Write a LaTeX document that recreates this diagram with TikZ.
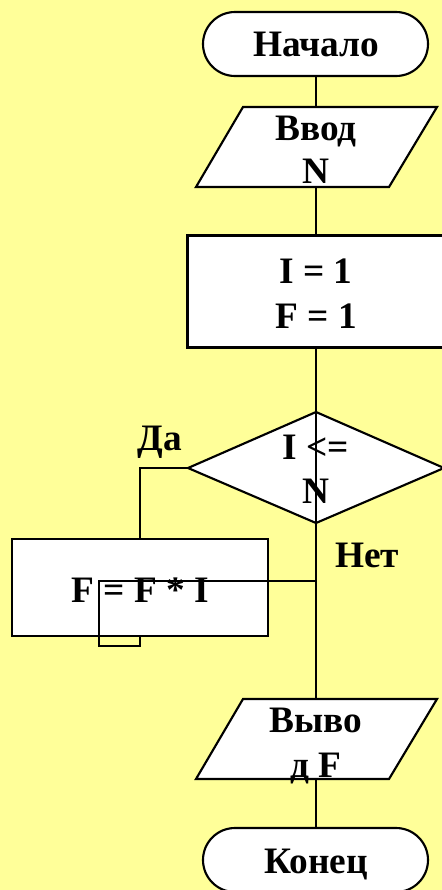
\documentclass[tikz,border=0pt]{standalone}
\usepackage{fontspec}
\setmainfont{Liberation Serif}
\definecolor{bgyellow}{HTML}{FFFF99}
\tikzset{
  lbl/.style={font=\fontsize{28}{33}\selectfont\bfseries, anchor=base, inner sep=0pt, text=black},
  shapebox/.style={draw=black, fill=white, line width=1.6pt},
  thickbox/.style={draw=black, fill=white, line width=2.25pt},
  conn/.style={draw=black, line width=1.5pt}
}
\begin{document}
\begin{tikzpicture}[x=0.75pt,y=-0.75pt]
\fill[bgyellow] (0,0) rectangle (442,890);
\useasboundingbox (0,0) rectangle (442,890);
\clip (0,0) rectangle (442,890);

% start terminator
\draw[shapebox, rounded corners=24pt] (203,12) rectangle (428,76);
\coordinate (startB) at (316,76);
\node[lbl] (tstart) at (316,56) {Начало};

% input
\draw[shapebox] (243,107) -- (437,107) -- (389,187) -- (196,187) -- cycle;
\coordinate (inT) at (316,107);
\coordinate (inB) at (316,187);
\node[lbl] (tin1) at (316,140) {Ввод};
\node[lbl] (tin2) at (316,183) {N};

% init rectangle
\draw[thickbox] (187,235) rectangle (445,347);
\coordinate (initT) at (316,235);
\coordinate (initB) at (316,347);
\node[lbl] (tinit1) at (316,283) {I = 1};
\node[lbl] (tinit2) at (316,328) {F = 1};

% decision
\draw[shapebox] (316,412) -- (444,468) -- (316,523) -- (188,468) -- cycle;
\coordinate (decL) at (188,468);
\node[lbl] (tdec1) at (316,459) {I <=};
\node[lbl] (tdec2) at (316,503) {N};
\node[lbl] (tyes) at (160,450) {Да};
\node[lbl] (tno) at (367,567) {Нет};

% loop body
\draw[shapebox] (12,539) rectangle (268,636);
\coordinate (bodyT) at (140,539);
\coordinate (bodyB) at (140,636);
\node[lbl] (tbody) at (140,602) {F = F * I};

% output
\draw[shapebox] (243,699) -- (437,699) -- (389,779) -- (196,779) -- cycle;
\coordinate (outT) at (316,699);
\coordinate (outB) at (316,779);
\node[lbl] (tout1) at (316,732) {Выво};
\node[lbl] (tout2) at (316,777) {д F};

% end terminator
\draw[shapebox, rounded corners=24pt] (203,828) rectangle (428,892);
\coordinate (endT) at (316,828);
\node[lbl] (tend) at (316,873) {Конец};

% connectors
\draw[conn] (startB) -- (inT);
\draw[conn] (inB) -- (initT);
\draw[conn] (initB) -- (outT);
\draw[conn] (decL) -- (140,468) -- (bodyT);
\coordinate (join) at (316,581);
\draw[conn] (bodyB) -- (140,646) -- (99,646) -- (99,581) -- (join);
\draw[conn] (outB) -- (endT);
\end{tikzpicture}
\end{document}
